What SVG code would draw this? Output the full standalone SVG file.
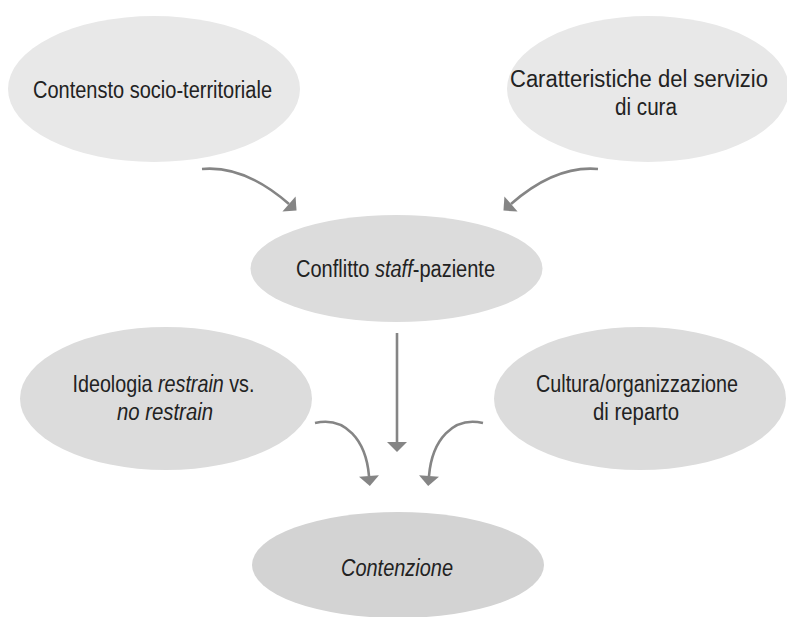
<svg xmlns="http://www.w3.org/2000/svg" width="787" height="617" viewBox="0 0 787 617">
<style>
  .t { font-family: "Liberation Sans", Arial, sans-serif; font-size: 23px; fill: #222222; }
  .i { font-style: italic; }
  .top { fill: #e8e8e8; }
  .mid { fill: #dcdcdc; }
  .bot { fill: #d3d3d3; }
  .c { fill: none; stroke: #858585; stroke-width: 2.6; marker-end: url(#ah); }
</style>
<defs>
  <marker id="ah" markerUnits="userSpaceOnUse" markerWidth="24" markerHeight="24" viewBox="-2 -12 14 24" refX="0" refY="0" orient="auto">
    <path d="M0,-10 L10,0 L0,10 z" fill="#858585"/>
  </marker>
</defs>
<rect width="787" height="617" fill="#ffffff"/>
<g id="connectors">
  <path class="c" d="M202,169 C235,166 265,183 289,204"/>
  <path class="c" d="M598,169 C565,166 535,183 511,204"/>
  <path class="c" d="M397,333 L397,442"/>
  <path class="c" d="M315,423 C345,416 366,440 369,476"/>
  <path class="c" d="M483,423 C453,416 432,440 429,476"/>
</g>
<g id="node-contesto">
  <ellipse class="top" cx="154" cy="89" rx="146" ry="73"/>
  <text class="t" x="33" y="98" textLength="239" lengthAdjust="spacingAndGlyphs">Contensto socio-territoriale</text>
</g>
<g id="node-caratteristiche">
  <ellipse class="top" cx="648" cy="89" rx="141" ry="73"/>
  <text class="t" x="510" y="87" textLength="258" lengthAdjust="spacingAndGlyphs">Caratteristiche del servizio</text>
  <text class="t" x="615" y="115" textLength="62" lengthAdjust="spacingAndGlyphs">di cura</text>
</g>
<g id="node-conflitto">
  <ellipse class="mid" cx="396.5" cy="268.5" rx="146" ry="53.5"/>
  <text class="t" transform="translate(296,277) scale(0.87,1)" x="0" y="0">Conflitto <tspan class="i">staff</tspan>-paziente</text>
</g>
<g id="node-ideologia">
  <ellipse class="mid" cx="166" cy="398.5" rx="146" ry="71.5"/>
  <text class="t" transform="translate(72.5,392) scale(0.858,1)" x="0" y="0">Ideologia <tspan class="i">restrain</tspan> vs.</text>
  <text class="t i" x="117" y="420" textLength="96" lengthAdjust="spacingAndGlyphs">no restrain</text>
</g>
<g id="node-cultura">
  <ellipse class="mid" cx="640" cy="398.5" rx="146" ry="71.5"/>
  <text class="t" x="536" y="392" textLength="202" lengthAdjust="spacingAndGlyphs">Cultura/organizzazione</text>
  <text class="t" x="593" y="420" textLength="86" lengthAdjust="spacingAndGlyphs">di reparto</text>
</g>
<g id="node-contenzione">
  <ellipse class="bot" cx="398" cy="565" rx="146" ry="53"/>
  <text class="t i" x="341" y="576" textLength="112" lengthAdjust="spacingAndGlyphs">Contenzione</text>
</g>
</svg>
